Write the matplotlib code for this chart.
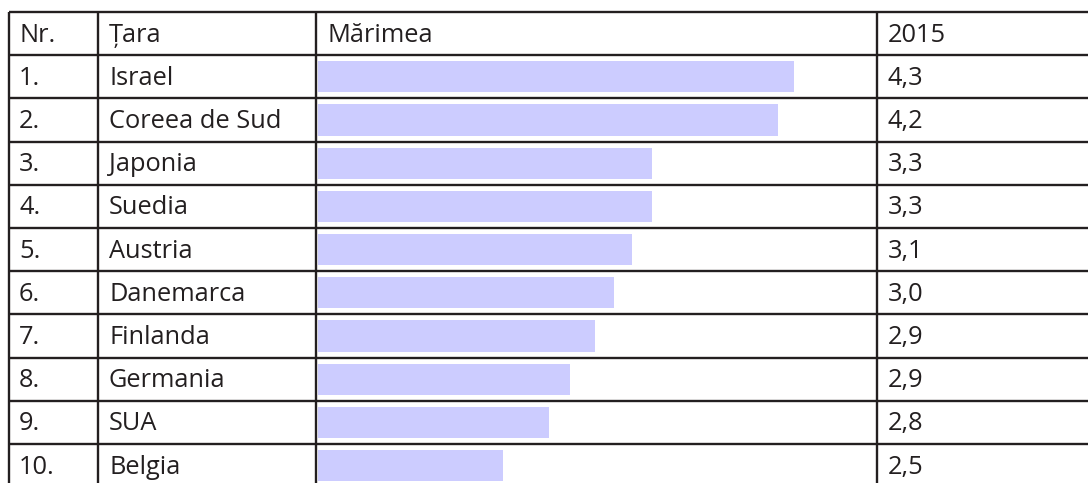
import matplotlib.pyplot as plt

# table contents
nr = ["1.", "2.", "3.", "4.", "5.", "6.", "7.", "8.", "9.", "10."]
tari = ["Israel", "Coreea de Sud", "Japonia", "Suedia", "Austria",
        "Danemarca", "Finlanda", "Germania", "SUA", "Belgia"]
valori_2015 = ["4,3", "4,2", "3,3", "3,3", "3,1", "3,0", "2,9", "2,9", "2,8", "2,5"]
# bar lengths as drawn in the source (pixels)
marime = [476, 460, 334, 334, 314, 296, 277, 252, 231, 185]
header = ["Nr.", "Țara", "Mărimea", "2015"]

W, H = 1088, 483
fig = plt.figure(figsize=(W / 100, H / 100), dpi=100)
ax = fig.add_axes([0, 0, 1, 1])
ax.set_xlim(0, W)
ax.set_ylim(H, 0)
ax.axis("off")

line_c = "#231f20"
bar_c = "#ccccff"
font = ["Open Sans", "DejaVu Sans"]
fs = 18.3

# --- layout ---
top, row_h = 12, 43.2
col_x = [9, 98, 316, 877, 1100]
text_x = [19, 109, 327, 888]
bar_left = 318
n_rows = len(tari) + 1

row_tops = [top + i * row_h for i in range(n_rows + 1)]
centers = [t + row_h / 2 for t in row_tops[:n_rows]]

# bars
ax.barh(centers[1:], marime, left=bar_left, height=row_h - 12,
        color=bar_c, edgecolor="none", zorder=1)

# grid lines
ax.hlines(row_tops, col_x[0], col_x[-1], colors=line_c, lw=1.7, zorder=3)
ax.vlines(col_x[:-1], row_tops[0], row_tops[-1], colors=line_c, lw=1.7, zorder=3)

# header
for x, t in zip(text_x, header):
    ax.text(x, centers[0] + 1.5, t, ha="left", va="center", fontsize=fs,
            family=font, color=line_c)

# rows
for i in range(len(tari)):
    y = centers[i + 1] + 1.5
    ax.text(text_x[0], y, nr[i], ha="left", va="center", fontsize=fs,
            family=font, color=line_c)
    ax.text(text_x[1], y, tari[i], ha="left", va="center", fontsize=fs,
            family=font, color=line_c)
    ax.text(text_x[3], y, valori_2015[i], ha="left", va="center", fontsize=fs,
            family=font, color=line_c)

fig.savefig("out.png", dpi=100, facecolor="white")
